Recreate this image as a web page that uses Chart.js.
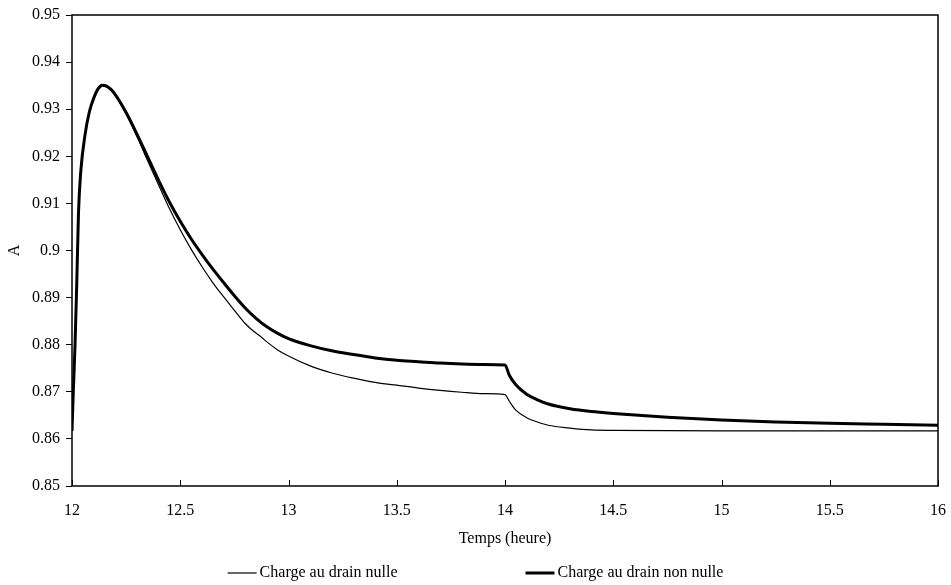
<!DOCTYPE html>
<html>
<head>
<meta charset="utf-8">
<script src="https://cdn.jsdelivr.net/npm/chart.js@4/dist/chart.umd.min.js"></script>
<style>
  html, body { margin: 0; padding: 0; background: #fff; }
  #wrap { width: 951px; height: 585px; }
</style>
</head>
<body>
<div id="wrap"><canvas id="mycanvas"></canvas></div>
<script>
// time axis (hours) and the two series
var tempsNulle = [12, 12.006, 12.014, 12.022, 12.03, 12.04, 12.06, 12.08, 12.1, 12.12, 12.14, 12.16, 12.18, 12.2, 12.25,
    12.3, 12.35, 12.4, 12.45, 12.5, 12.55, 12.6, 12.65, 12.7, 12.75, 12.8, 12.84, 12.87, 12.9, 12.95, 13,
    13.1, 13.2, 13.3, 13.4, 13.5, 13.6, 13.7, 13.8, 13.9, 14, 14.02, 14.05, 14.1, 14.15, 14.2, 14.3, 14.4, 14.5,
    15, 15.5, 16];
var chargeNulle = [0.8617, 0.870, 0.880, 0.893, 0.908, 0.9165, 0.9245, 0.9292, 0.932, 0.934, 0.9349, 0.9347, 0.9340, 0.9329, 0.9290,
    0.9242, 0.9190, 0.9139, 0.9089, 0.9044, 0.9003, 0.8966, 0.8932, 0.8902, 0.8873, 0.8845, 0.8828, 0.8818, 0.8806, 0.8789, 0.8776,
    0.8755, 0.8740, 0.8729, 0.8720, 0.8714, 0.8708, 0.8703, 0.8699, 0.8696, 0.8694, 0.8680, 0.8661, 0.8645, 0.8636, 0.8629, 0.8623, 0.8619, 0.8618,
    0.8617, 0.8617, 0.8617];

var tempsNonNulle = [12, 12.006, 12.014, 12.022, 12.03, 12.04, 12.06, 12.08, 12.1, 12.12, 12.14, 12.16, 12.18, 12.2, 12.25,
    12.3, 12.35, 12.4, 12.45, 12.5, 12.55, 12.6, 12.65, 12.7, 12.75, 12.8, 12.85, 12.9, 12.95, 13,
    13.1, 13.2, 13.3, 13.4, 13.5, 13.6, 13.7, 13.8, 13.9, 14, 14.02, 14.05, 14.1, 14.15, 14.2, 14.3, 14.4, 14.5,
    14.75, 15, 15.25, 15.5, 15.75, 16];
var chargeNonNulle = [0.8617, 0.870, 0.880, 0.893, 0.908, 0.9165, 0.9245, 0.9294, 0.9323, 0.9343, 0.9351, 0.9349, 0.9342, 0.9331, 0.9293,
    0.9247, 0.9198, 0.9149, 0.9103, 0.9062, 0.9025, 0.8992, 0.8961, 0.8932, 0.8904, 0.8878, 0.8856, 0.8838, 0.8824, 0.8813,
    0.8798, 0.8787, 0.8779, 0.8772, 0.8767, 0.8764, 0.8761, 0.8759, 0.8758, 0.8757, 0.8735, 0.8715, 0.8695, 0.8683, 0.8674, 0.8664, 0.8658, 0.8654,
    0.8646, 0.8640, 0.8636, 0.8633, 0.8631, 0.8629];

var labelNulle = "Charge au drain nulle";
var labelNonNulle = "Charge au drain non nulle";
var titreX = "Temps (heure)";
var titreY = "A";

var police = "'Liberation Serif', 'Times New Roman', serif";

function toPoints(xs, ys) {
    var pts = [];
    for (var i = 0; i < xs.length; i++) {
        pts.push({ x: xs[i], y: ys[i] });
    }
    return pts;
}

// frame around the plot + inward ticks on the x axis
var cadrePlugin = {
    id: 'cadre',
    afterDatasetsDraw: function(chart) {
        var ctx = chart.ctx, a = chart.chartArea;
        ctx.save();
        ctx.strokeStyle = '#000';
        ctx.lineWidth = 1.5;
        ctx.strokeRect(a.left, a.top, a.right - a.left, a.bottom - a.top);
        var xs = chart.scales.x;
        ctx.lineWidth = 1;
        xs.ticks.forEach(function(t) {
            var px = Math.round(xs.getPixelForValue(t.value)) + 0.5;
            ctx.beginPath();
            ctx.moveTo(px, a.bottom);
            ctx.lineTo(px, a.bottom - 6);
            ctx.stroke();
        });
        ctx.restore();
    }
};

// legend at the bottom, drawn with the datasets' own styles
var legendePlugin = {
    id: 'legende',
    afterDraw: function(chart) {
        var ctx = chart.ctx;
        var sets = chart.data.datasets;
        var lineLen = 29, gapTxt = 3, gapItem = 128;
        var y = 573;
        ctx.save();
        ctx.font = "16px " + police;
        ctx.textBaseline = 'middle';
        ctx.fillStyle = '#000';
        var total = 0;
        sets.forEach(function(ds, i) {
            total += lineLen + gapTxt + ctx.measureText(ds.label).width;
            if (i > 0) total += gapItem;
        });
        var x = (chart.width - total) / 2;
        sets.forEach(function(ds) {
            ctx.strokeStyle = ds.borderColor;
            ctx.lineWidth = ds.borderWidth;
            ctx.beginPath();
            ctx.moveTo(x, y);
            ctx.lineTo(x + lineLen, y);
            ctx.stroke();
            x += lineLen + gapTxt;
            ctx.fillText(ds.label, x, y);
            x += ctx.measureText(ds.label).width + gapItem;
        });
        ctx.restore();
    }
};

var chartdata = {
    datasets: [
        {
            label: labelNulle,
            data: toPoints(tempsNulle, chargeNulle),
            borderColor: '#000',
            borderWidth: 1.2,
            pointRadius: 0,
            cubicInterpolationMode: 'monotone'
        },
        {
            label: labelNonNulle,
            data: toPoints(tempsNonNulle, chargeNonNulle),
            borderColor: '#000',
            borderWidth: 3,
            pointRadius: 0,
            cubicInterpolationMode: 'monotone'
        }
    ]
};

var ctx = document.getElementById('mycanvas');
var lineChart = new Chart(ctx, {
    type: 'line',
    data: chartdata,
    plugins: [cadrePlugin, legendePlugin],
    options: {
        responsive: true,
        maintainAspectRatio: false,
        animation: false,
        layout: { padding: { top: 15, right: 13, bottom: 35, left: 0 } },
        scales: {
            x: {
                type: 'linear',
                min: 12,
                max: 16,
                ticks: {
                    stepSize: 0.5,
                    color: '#000',
                    padding: 15,
                    font: { family: police, size: 16 },
                    callback: function(v) { return String(+v.toFixed(1)); }
                },
                grid: { display: false, drawTicks: false },
                border: { display: false },
                title: {
                    display: true,
                    text: titreX,
                    color: '#000',
                    font: { family: police, size: 16 },
                    padding: { top: 0, bottom: 2 }
                },
                afterFit: function(s) {
                    s.height = 64;
                    s.paddingLeft = 0;
                    s.paddingRight = 0;
                }
            },
            y: {
                min: 0.85,
                max: 0.95,
                ticks: {
                    stepSize: 0.01,
                    color: '#000',
                    padding: 6,
                    font: { family: police, size: 16 },
                    callback: function(v) { return String(+v.toFixed(2)); }
                },
                grid: { drawOnChartArea: false, drawTicks: true, tickLength: 6, color: '#000' },
                border: { display: false },
                title: {
                    display: true,
                    text: titreY,
                    color: '#000',
                    font: { family: police, size: 16 },
                    padding: 5
                },
                afterFit: function(s) {
                    s.width = 72;
                    s.paddingTop = 0;
                    s.paddingBottom = 0;
                }
            }
        },
        plugins: {
            legend: { display: false },
            tooltip: { enabled: false }
        }
    }
});
</script>
</body>
</html>
